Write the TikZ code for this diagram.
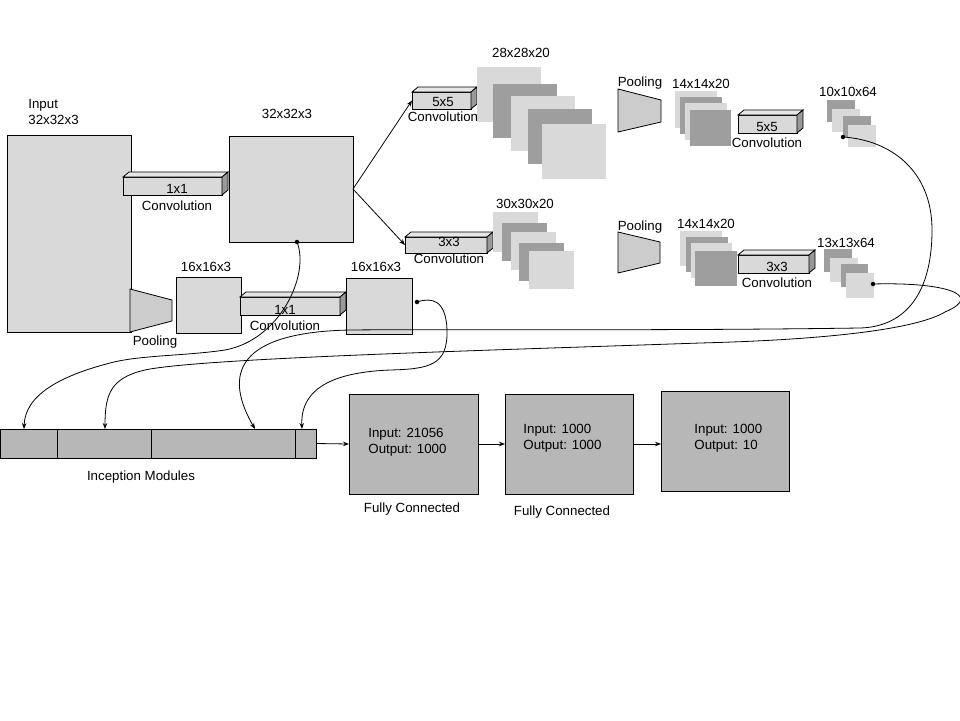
\documentclass[tikz,border=0pt]{standalone}
\usepackage{fontspec}
\setmainfont{Liberation Sans}
\usetikzlibrary{arrows.meta}
\definecolor{lightg}{HTML}{D9D9D9}
\definecolor{darkg}{HTML}{9E9E9E}
\definecolor{poolg}{HTML}{CCCCCC}
\definecolor{fcg}{HTML}{B7B7B7}
\definecolor{topg}{HTML}{E6E6E6}
\definecolor{sideg}{HTML}{999999}
\begin{document}
\begin{tikzpicture}[x=1pt,y=-1pt,
  font=\fontsize{13.3}{16}\selectfont,
  line width=0.8pt,
  blk/.style={draw=black, fill=lightg, inner sep=0pt, outer sep=0pt, anchor=north west},
  fcbox/.style={blk, fill=fcg},
  sheet/.style={fill=#1, inner sep=0pt, outer sep=0pt, anchor=north west},
  poolshape/.style={draw=black, fill=poolg},
  lbl/.style={inner sep=0pt},
  dotn/.style={circle, fill=black, inner sep=0pt, minimum size=4.5pt},
  arr/.style={-{Stealth[length=6pt,width=4.5pt]}},
  link/.style={arr, line width=0.9pt}]
\useasboundingbox (0,0) rectangle (960,720);

% a 3-D convolution block: front face node plus top and side faces
\newcommand\convblock[5]{%
  \node[blk, minimum width=#4, minimum height=#5] (#1) at (#2,#3) {};
  \filldraw[fill=topg] (#1.north west) -- ++(6,-5) -- ([shift={(6,-5)}]#1.north east) -- (#1.north east) -- cycle;
  \filldraw[fill=sideg] (#1.north east) -- ++(6,-5) -- ([shift={(6,-5)}]#1.south east) -- (#1.south east) -- cycle;
}
\newcommand\sheetnode[6]{\node[sheet=#2, minimum width=#5, minimum height=#6] (#1) at (#3,#4) {};}

% ---------- input branch ----------
\node[blk, minimum width=124, minimum height=197] (in) at (7,135) {};
\node[lbl, anchor=north west, align=left] (inlbl) at (28,99) {Input\\32x32x3};

\convblock{c1}{123}{177}{99}{18}
\node[lbl] (c1k) at (177,189) {1x1};
\node[lbl] (c1t) at (177,206) {Convolution};

\node[blk, minimum width=124, minimum height=106] (b32) at (229,136) {};
\node[lbl] (b32l) at (287,114) {32x32x3};

\filldraw[poolshape] (130,289) -- (172,300) -- (172,321) -- (130,332) -- cycle;
\node[lbl] (p1l) at (155,342) {Pooling};

\node[blk, minimum width=65, minimum height=56] (b16a) at (176,277) {};
\node[lbl] (b16al) at (206,267) {16x16x3};

\convblock{c2}{240}{297}{100}{18}
\node[lbl] (c2k) at (285,310) {1x1};
\node[lbl] (c2t) at (285,326) {Convolution};

\node[blk, minimum width=66, minimum height=56] (b16b) at (346,278) {};
\node[lbl] (b16bl) at (376,267) {16x16x3};

% ---------- 5x5 branch ----------
\convblock{c5}{412}{92}{59}{17}
\node[lbl] (c5k) at (443,102) {5x5};
\node[lbl] (c5t) at (443,117) {Convolution};

\sheetnode{s28a}{lightg}{477}{67}{64}{55}
\sheetnode{s28b}{darkg}{493}{84}{64}{54}
\sheetnode{s28c}{lightg}{511}{96}{64}{55}
\sheetnode{s28d}{darkg}{528}{109}{64}{55}
\sheetnode{s28e}{lightg}{542}{124}{64}{55}
\node[lbl] (s28l) at (521,53) {28x28x20};

\filldraw[poolshape] (618,89) -- (661,100) -- (661,122) -- (618,132) -- cycle;
\node[lbl] (p2l) at (640,83) {Pooling};

\sheetnode{s14a}{lightg}{675}{91}{42}{37}
\sheetnode{s14b}{darkg}{680}{97}{42}{37}
\sheetnode{s14c}{lightg}{685}{103}{42}{37}
\sheetnode{s14d}{darkg}{690}{110}{41}{36}
\node[lbl] (s14l) at (701,84) {14x14x20};

\convblock{c5b}{738}{115}{59}{18}
\node[lbl] (c5bk) at (767,127) {5x5};
\node[lbl] (c5bt) at (767,143) {Convolution};

\sheetnode{s10a}{darkg}{827}{100}{28}{22}
\sheetnode{s10b}{lightg}{832}{109}{28}{23}
\sheetnode{s10c}{darkg}{843}{116}{28}{21}
\sheetnode{s10d}{lightg}{848}{125}{28}{22}
\node[lbl] (s10l) at (848,92) {10x10x64};

% ---------- 3x3 branch ----------
\convblock{c3}{405}{237}{82}{16}
\node[lbl] (c3k) at (449,242) {3x3};
\node[lbl] (c3t) at (449,259) {Convolution};

\sheetnode{s30a}{lightg}{493}{212}{45}{40}
\sheetnode{s30b}{darkg}{502}{223}{45}{38}
\sheetnode{s30c}{lightg}{511}{232}{45}{38}
\sheetnode{s30d}{darkg}{519}{243}{45}{38}
\sheetnode{s30e}{lightg}{529}{251}{45}{38}
\node[lbl] (s30l) at (525,204) {30x30x20};

\filldraw[poolshape] (618,232) -- (660,242) -- (660,263) -- (618,273) -- cycle;
\node[lbl] (p3l) at (640,227) {Pooling};

\sheetnode{s14e}{lightg}{680}{231}{42}{35}
\sheetnode{s14f}{darkg}{686}{237}{42}{35}
\sheetnode{s14g}{lightg}{691}{243}{41}{35}
\sheetnode{s14h}{darkg}{695}{251}{42}{35}
\node[lbl] (s14l2) at (706,224) {14x14x20};

\convblock{c3b}{738}{255}{71}{18}
\node[lbl] (c3bk) at (777,267) {3x3};
\node[lbl] (c3bt) at (777,283) {Convolution};

\sheetnode{s13a}{darkg}{824}{249}{28}{23}
\sheetnode{s13b}{lightg}{830}{258}{28}{24}
\sheetnode{s13c}{darkg}{841}{264}{27}{23}
\sheetnode{s13d}{lightg}{846}{273}{28}{25}
\node[lbl] (s13l) at (846,243) {13x13x64};

% ---------- inception bar and dense layers ----------
\node[fcbox, minimum width=316, minimum height=29] (bar) at (0,429) {};
\draw (57,429) -- (57,458) (151,429) -- (151,458) (295,429) -- (295,458);
\node[lbl] (barl) at (141,477) {Inception Modules};

\node[fcbox, minimum width=129, minimum height=100] (fc1) at (349,394) {};
\node[lbl, anchor=west, align=left] (fc1t) at (368,442) {Input: 21056\\Output: 1000};
\node[lbl] (fc1l) at (412,509) {Fully Connected};

\node[fcbox, minimum width=128, minimum height=100] (fc2) at (505,394) {};
\node[lbl, anchor=west, align=left] (fc2t) at (523,438) {Input: 1000\\Output: 1000};
\node[lbl] (fc2l) at (562,512) {Fully Connected};

\node[fcbox, minimum width=128, minimum height=100] (fc3) at (661,391) {};
\node[lbl, anchor=west, align=left] (fc3t) at (694,438) {Input: 1000\\Output: 10};

% ---------- connectors ----------
\draw[arr] (b32.east) -- (c5.west);
\draw[arr] (b32.east) -- (c3.west);
\draw[arr] (bar.east) -- (fc1.west);
\draw[arr] (fc1.east) -- (fc2.west);
\draw[arr] (fc2.east) -- ([yshift=-3]fc3.west);

\node[dotn] (d32) at (297,242) {};
\node[dotn] (d16) at (417,302) {};
\node[dotn] (d10) at (843,137) {};
\node[dotn] (d13) at (873,284) {};

\coordinate (i1) at (24,429);
\coordinate (i2) at (105,429);
\coordinate (i3) at (255,429);
\coordinate (i4) at (302,429);

\draw[arr] (d32.center) .. controls (310,275) and (280,340) .. (225,350)
  .. controls (185,356) and (140,355) .. (110,363)
  .. controls (60,376) and (25,395) .. (i1);
\draw[arr] (d16.center) .. controls (432,297) and (446,300) .. (447,330)
  .. controls (448,365) and (430,369) .. (390,370)
  .. controls (340,372) and (300,385) .. (i4);
\draw[arr] (d10.center) .. controls (890,140) and (932,170) .. (932,230)
  .. controls (932,300) and (900,327) .. (860,328)
  .. controls (650,331) and (450,329) .. (350,330)
  .. controls (250,332) and (218,365) .. (i3);
\draw[arr] (d13.center) .. controls (945,282) and (985,295) .. (945,312)
  .. controls (915,330) and (820,340) .. (700,343)
  .. controls (500,350) and (200,358) .. (145,370)
  .. controls (110,378) and (105,395) .. (i2);
\end{tikzpicture}
\end{document}
